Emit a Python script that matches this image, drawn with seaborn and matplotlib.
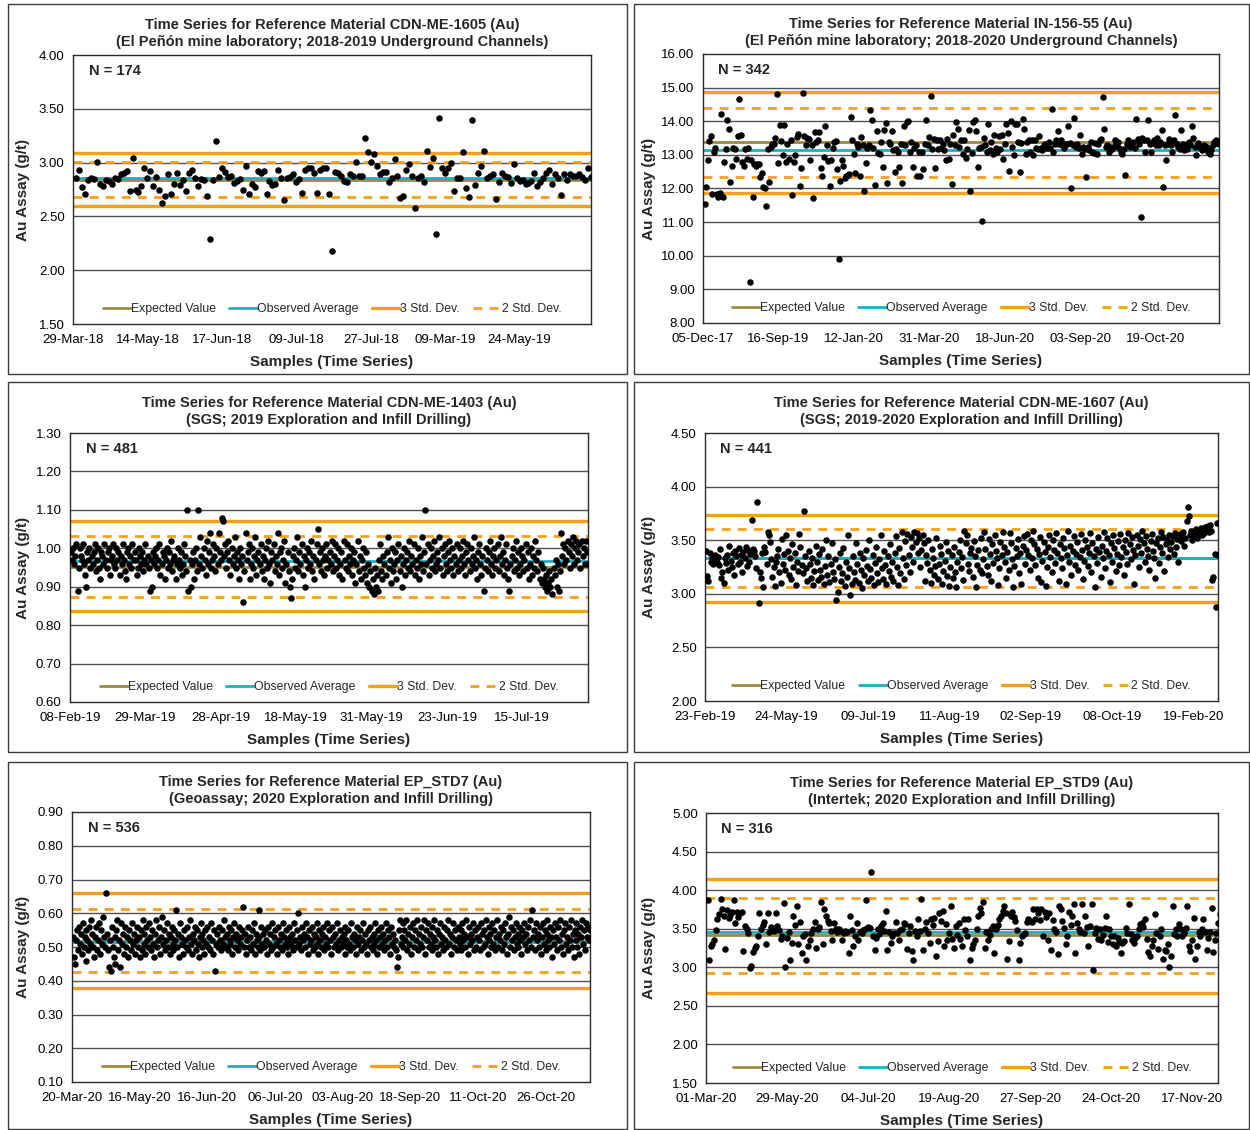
import numpy as np
import pandas as pd
import matplotlib
matplotlib.use("Agg")
import matplotlib.pyplot as plt
import seaborn as sns
from matplotlib.lines import Line2D
from matplotlib.patches import Rectangle

# ---------------- DATA ----------------
p1_titles = ["Time Series for Reference Material CDN-ME-1605 (Au)",
             "(El Peñón mine laboratory; 2018-2019 Underground Channels)"]
p1_ticks = ['29-Mar-18', '14-May-18', '17-Jun-18', '09-Jul-18', '27-Jul-18', '09-Mar-19', '24-May-19']
p1_n = 174
p1_lines = {"exp": 2.84, "obs": 2.86, "sd2": (2.68, 3.01), "sd3": (2.60, 3.09)}
p1_values = [2.86, 2.93, 2.77, 2.71, 2.84, 2.86, 2.85, 3.01, 2.80, 2.78, 2.84, 2.83, 2.80, 2.86, 2.85, 2.89, 2.90,
             2.92, 2.74, 3.04, 2.75, 2.73, 2.78, 2.95, 2.86, 2.92, 2.78, 2.87, 2.75, 2.62, 2.69, 2.89, 2.71, 2.80,
             2.90, 2.79, 2.84, 2.74, 2.90, 2.93, 2.86, 2.78, 2.85, 2.84, 2.69, 2.29, 2.84, 3.20, 2.87, 2.95, 2.91,
             2.87, 2.88, 2.81, 2.83, 2.85, 2.75, 2.97, 2.71, 2.80, 2.77, 2.92, 2.90, 2.92, 2.71, 2.83, 2.79, 2.80,
             2.93, 2.86, 2.65, 2.86, 2.87, 2.89, 2.82, 2.85, 2.72, 2.93, 2.95, 2.95, 2.90, 2.72, 2.93, 2.95, 2.95,
             2.71, 2.18, 2.91, 2.90, 2.88, 2.83, 2.82, 2.89, 2.88, 3.01, 2.88, 2.88, 3.23, 3.10, 3.01, 3.08, 2.97,
             2.89, 2.91, 2.91, 2.82, 2.86, 3.03, 2.88, 2.67, 2.69, 2.93, 2.99, 2.88, 2.58, 2.86, 2.88, 2.82, 3.11,
             2.96, 3.04, 2.34, 3.41, 2.95, 2.90, 2.95, 3.00, 2.74, 2.86, 2.86, 3.10, 2.76, 2.68, 3.40, 2.79, 2.90,
             2.97, 3.11, 2.86, 2.88, 2.89, 2.66, 2.82, 2.90, 2.88, 2.87, 2.81, 2.99, 2.86, 2.83, 2.84, 2.80, 2.81,
             2.83, 2.90, 2.78, 2.82, 2.86, 2.90, 2.93, 2.80, 2.89, 2.86, 2.70, 2.89, 2.84, 2.89, 2.88, 2.88, 2.89,
             2.87, 2.84, 2.95, 2.87]

p2_titles = ["Time Series for Reference Material IN-156-55 (Au)",
             "(El Peñón mine laboratory; 2018-2020 Underground Channels)"]
p2_ticks = ['05-Dec-17', '16-Sep-19', '12-Jan-20', '31-Mar-20', '18-Jun-20', '03-Sep-20', '19-Oct-20']
p2_n = 342
p2_lines = {"exp": 13.37, "obs": 13.15, "sd2": (12.35, 14.38), "sd3": (11.86, 14.88)}
p2_values = [11.53, 12.03, 12.84, 13.41, 13.55, 11.84, 13.08, 13.21, 11.84, 11.75, 11.88, 14.21, 11.76, 12.80, 13.16,
             14.05, 13.77, 12.18, 12.66, 13.19, 13.16, 12.89, 13.55, 14.67, 13.58, 12.79, 12.67, 13.16, 12.89, 13.19,
             9.21, 12.84, 11.76, 12.72, 12.67, 12.72, 12.74, 12.35, 12.45, 12.05, 12.02, 11.49, 13.17, 12.20, 13.24,
             13.33, 13.31, 13.51, 14.81, 12.76,
             13.88, 13.40, 13.01, 13.88, 12.79, 13.32, 12.87, 13.43, 11.81, 12.79, 12.99, 13.53, 13.63, 12.08, 12.62,
             14.85, 13.55, 13.29, 13.51, 13.48, 12.84, 13.28, 11.71, 13.68, 13.38, 13.43, 13.68, 12.60, 12.37, 12.94,
             13.87, 13.29, 12.82, 12.07, 12.86, 13.19, 13.39, 13.41, 12.57, 9.90, 12.23, 12.86, 12.68, 12.30, 12.37,
             12.40, 12.43, 14.12, 13.43, 13.02,
             12.47, 13.32, 13.24, 12.37, 13.53, 13.29, 11.93, 12.76, 13.19, 13.29, 14.34, 14.05, 13.19, 12.10, 13.70,
             13.06, 13.04, 13.38, 12.65, 13.73, 13.95, 12.15, 13.38, 13.33, 13.70, 13.14, 12.50, 13.16, 13.09, 12.65,
             13.33, 12.15, 13.85, 13.29, 13.98, 14.02, 13.09, 13.38, 12.65, 13.19, 13.29, 12.37, 13.09, 12.37, 13.09,
             12.57, 13.32, 14.05, 13.29, 13.53,
             14.74, 13.17, 13.48, 12.60, 13.43, 13.17, 13.45, 13.19, 13.33, 13.14, 12.84, 13.48, 12.89, 13.33, 12.12,
             13.58, 13.29, 13.98, 13.78, 13.24, 13.43, 13.04, 13.45, 12.92, 13.16, 13.73, 11.93, 13.06, 13.98, 14.05,
             13.70, 12.65, 13.19, 13.24, 11.02, 13.51, 13.29, 13.09, 13.91, 13.14, 13.38, 13.04, 13.58, 13.19, 13.09,
             13.55, 13.16, 13.58, 12.89, 13.32,
             13.91, 13.65, 12.53, 14.02, 13.24, 12.99, 13.93, 13.93, 13.38, 12.50, 13.35, 14.07, 13.78, 13.04, 13.38,
             13.43, 13.09, 13.43, 12.99, 13.45, 13.19, 13.16, 13.55, 13.19, 13.14, 13.29, 13.33, 13.19, 13.38, 13.19,
             14.37, 13.09, 13.33, 13.43, 13.70, 13.32, 13.43, 13.29, 13.19, 13.33, 13.32, 13.85, 13.35, 12.00, 13.29,
             14.10, 13.24, 13.33, 13.19, 13.60,
             13.04, 13.24, 13.16, 12.35, 13.22, 13.14, 13.38, 13.09, 13.06, 13.35, 13.04, 13.32, 13.45, 13.48, 14.71,
             13.78, 13.24, 13.29, 13.09, 13.22, 13.16, 13.24, 13.43, 13.33, 13.38, 13.19, 13.09, 13.02, 13.16, 12.40,
             13.32, 13.43, 13.24, 13.29, 13.38, 13.19, 14.07, 13.48, 13.32, 11.14, 13.51, 13.43, 13.09, 13.43, 14.04,
             13.33, 13.09, 13.38, 13.43, 13.29,
             13.51, 13.29, 13.38, 13.73, 12.05, 13.29, 12.86, 13.33, 13.48, 13.29, 13.09, 13.43, 14.20, 13.33, 13.24,
             13.16, 13.73, 13.32, 13.14, 13.29, 13.16, 13.38, 13.29, 13.85, 13.51, 13.24, 12.99, 13.35, 13.22, 13.24,
             13.14, 13.29, 13.19, 13.24, 13.09, 13.02, 13.14, 13.29, 13.38, 13.43, 13.35, 13.33]

p3_titles = ["Time Series for Reference Material CDN-ME-1403 (Au)",
             "(SGS; 2019 Exploration and Infill Drilling)"]
p3_ticks = ['08-Feb-19', '29-Mar-19', '28-Apr-19', '18-May-19', '31-May-19', '23-Jun-19', '15-Jul-19']
p3_n = 481
p3_lines = {"exp": 0.952, "obs": 0.966, "sd2": (0.874, 1.032), "sd3": (0.837, 1.070)}
p3_values = [0.99, 0.97, 1.00, 0.96, 0.98, 1.01, 0.89, 0.95, 1.00, 0.98, 0.97, 1.01, 0.96, 0.93, 0.90, 0.99, 0.97, 1.00, 0.95, 0.98,
             0.96, 0.99, 1.01, 0.94, 0.97, 1.00, 0.95, 0.92, 0.99, 0.98, 0.96, 1.01, 0.97, 0.95, 0.99, 1.00, 0.93, 0.97, 0.98, 1.01,
             0.96, 0.95, 1.00, 0.97, 0.99, 0.93, 0.98, 0.96, 1.01, 0.97, 0.94, 0.92, 0.99, 1.00, 0.96, 0.98, 0.95, 1.01, 0.97, 0.99,
             0.97, 0.93, 0.95, 1.00, 0.98, 0.96, 0.99, 0.94, 0.97, 1.01, 0.96, 0.98, 0.95, 0.89, 0.97, 0.90, 0.99, 0.96, 0.98, 1.00,
             0.95, 0.97, 1.01, 0.93, 0.96, 0.99, 0.98, 0.92, 0.97, 1.00, 0.95, 0.99, 0.96, 1.02, 0.94, 0.97, 0.98, 0.92, 0.96, 1.00,
             0.97, 0.95, 0.99, 0.93, 0.96, 1.01, 0.98, 0.94, 1.10, 0.89, 0.97, 0.90, 0.96, 0.99, 0.92, 0.97, 1.00, 0.94, 1.10, 0.96,
             1.03, 0.98, 0.95, 1.00, 0.97, 0.93, 1.02, 0.96, 0.99, 1.04, 0.95, 0.97, 1.01, 0.98, 0.94, 1.00, 0.96, 1.04, 0.99, 0.97,
             1.08, 1.07, 0.98, 1.01, 0.95, 0.99, 1.02, 0.97, 0.93, 1.00, 0.96, 0.98, 1.03, 0.95, 0.99, 0.97, 0.92, 1.00, 0.96, 0.98,
             0.86, 0.94, 1.04, 0.97, 0.99, 1.01, 0.92, 0.96, 1.00, 0.95, 0.98, 1.03, 0.93, 0.97, 0.99, 0.96, 1.01, 0.94, 0.98, 0.92,
             0.97, 1.00, 0.95, 1.02, 0.96, 0.91, 0.99, 0.97, 1.01, 0.94, 0.98, 0.96, 1.04, 0.93, 0.99, 1.00, 0.95, 0.97, 1.02, 0.91,
             0.96, 0.99, 0.94, 0.90, 0.87, 0.92, 0.98, 1.00, 0.95, 0.97, 1.03, 0.94, 0.99, 0.96, 1.01, 0.93, 0.98, 0.90, 0.97, 1.00,
             0.95, 0.99, 0.96, 1.02, 0.94, 0.98, 0.92, 0.97, 1.01, 1.05, 0.96, 0.99, 0.94, 1.00, 0.97, 0.93, 0.98, 1.01, 0.95, 0.97,
             0.99, 0.96, 1.02, 0.94, 0.98, 1.01, 0.95, 0.97, 1.00, 0.93, 0.96, 0.99, 0.92, 1.02, 0.97, 0.95, 1.01, 0.94, 0.98, 0.96,
             1.00, 0.93, 0.97, 0.99, 0.91, 0.96, 1.02, 0.94, 0.98, 0.92, 0.97, 1.00, 0.95, 0.93, 0.99, 0.91, 0.96, 0.90, 0.94, 0.89,
             0.92, 0.88, 0.95, 0.90, 0.93, 0.89, 0.97, 1.01, 0.94, 0.92, 0.98, 0.96, 0.93, 0.99, 1.03, 0.95, 0.97, 0.91, 1.00, 0.94,
             0.96, 0.99, 0.92, 0.97, 1.01, 0.94, 0.98, 0.90, 0.96, 1.00, 0.93, 0.97, 0.99, 0.95, 1.02, 0.94, 0.98, 0.96, 1.01, 0.93,
             0.97, 0.95, 1.00, 0.92, 0.98, 0.96, 1.03, 0.94, 0.99, 1.10, 0.96, 1.01, 0.93, 0.97, 1.00, 0.95, 0.98, 1.02, 0.94, 0.96,
             0.99, 0.97, 1.03, 0.95, 1.00, 0.93, 0.98, 1.01, 0.96, 0.94, 0.99, 1.02, 0.97, 0.95, 1.00, 0.93, 0.98, 0.96, 1.01, 0.94,
             0.97, 1.00, 0.95, 0.98, 1.02, 0.96, 0.93, 0.99, 1.01, 0.97, 0.94, 1.00, 0.96, 0.98, 1.03, 0.95, 0.97, 0.92, 0.99, 1.01,
             0.96, 0.93, 0.98, 0.89, 0.95, 1.00, 0.97, 0.94, 0.99, 1.02, 0.96, 0.93, 0.98, 1.00, 0.95, 0.97, 1.01, 0.94, 0.98, 1.03,
             0.96, 0.99, 0.93, 0.97, 1.01, 0.95, 0.92, 0.89, 0.96, 0.98, 1.00, 0.94, 0.97, 1.02, 0.95, 0.99, 0.93, 0.96, 1.00, 0.98,
             0.94, 0.97, 1.01, 0.95, 0.99, 0.92, 0.96, 1.00, 0.93, 0.98, 0.95, 1.02, 0.97, 0.94, 0.99, 0.92, 0.96, 0.91, 0.95, 0.92,
             0.90, 0.93, 0.89, 0.91, 0.94, 0.90, 0.92, 0.88, 0.95, 0.93, 0.97, 0.90, 0.96, 0.89, 0.94, 1.04, 0.98, 1.01, 0.96, 1.00,
             0.97, 1.02, 0.99, 0.95, 1.01, 0.98, 1.03, 0.96, 1.00, 1.02, 0.97, 0.99, 1.01, 0.95, 1.02, 0.98, 1.00, 0.96, 1.02, 0.99,
             0.96]

p4_titles = ["Time Series for Reference Material CDN-ME-1607 (Au)",
             "(SGS; 2019-2020 Exploration and Infill Drilling)"]
p4_ticks = ['23-Feb-19', '24-May-19', '09-Jul-19', '11-Aug-19', '02-Sep-19', '08-Oct-19', '19-Feb-20']
p4_n = 441
p4_lines = {"exp": 3.33, "obs": 3.33, "sd2": (3.06, 3.60), "sd3": (2.925, 3.735)}
p4_values = [3.40, 3.17, 3.12, 3.38, 3.30, 3.33, 3.28, 3.31, 3.36, 3.30, 3.34, 3.27, 3.42, 3.15, 3.20, 3.10, 3.33, 3.29, 3.36, 3.22,
             3.45, 3.31, 3.25, 3.38, 3.18, 3.40, 3.35, 3.28, 3.43, 3.30, 3.36, 3.20, 3.39, 3.33, 3.44, 3.26, 3.41, 3.30, 3.37, 3.69,
             3.42, 3.40, 3.35, 3.24, 3.86, 2.91, 3.20, 3.15, 3.38, 3.06, 3.44, 3.39, 3.28, 3.58, 3.55, 3.48, 3.32, 3.16, 3.25, 3.07,
             3.30, 3.35, 3.42, 3.20, 3.10, 3.51, 3.28, 3.37, 3.22, 3.55, 3.40, 3.18, 3.33, 3.14, 3.46, 3.25, 3.38, 3.08, 3.30, 3.21,
             3.56, 3.44, 3.27, 3.19, 3.77, 3.35, 3.24, 3.12, 3.40, 3.28, 3.15, 3.33, 3.08, 3.21, 3.45, 3.30, 3.13, 3.37, 3.22, 3.16,
             3.42, 3.09, 3.26, 3.50, 3.18, 3.35, 3.11, 3.28, 3.47, 3.20, 3.14, 3.32, 2.94, 3.02, 3.25, 3.38, 3.12, 3.19, 3.43, 3.07,
             3.30, 3.16, 3.55, 3.24, 2.99, 3.09, 3.35, 3.20, 3.13, 3.47, 3.28, 3.10, 3.38, 3.22, 3.05, 3.33, 3.18, 3.41, 3.26, 3.12,
             3.50, 3.23, 3.15, 3.36, 3.08, 3.29, 3.44, 3.19, 3.11, 3.32, 3.55, 3.24, 3.14, 3.40, 3.27, 3.09, 3.35, 3.21, 3.46, 3.16,
             3.30, 3.12, 3.38, 3.54, 3.25, 3.08, 3.43, 3.19, 3.58, 3.33, 3.14, 3.49, 3.27, 3.56, 3.36, 3.20, 3.53, 3.44, 3.30, 3.58,
             3.48, 3.57, 3.38, 3.52, 3.25, 3.41, 3.55, 3.47, 3.12, 3.36, 3.29, 3.50, 3.22, 3.10, 3.42, 3.33, 3.18, 3.26, 3.52, 3.14,
             3.28, 3.45, 3.37, 3.09, 3.21, 3.31, 3.48, 3.17, 3.40, 3.07, 3.25, 3.36, 3.15, 3.44, 3.20, 3.06, 3.30, 3.39, 3.50, 3.24,
             3.34, 3.13, 3.59, 3.47, 3.55, 3.28, 3.21, 3.38, 3.43, 3.16, 3.49, 3.35, 3.06, 3.27, 3.41, 3.22, 3.52, 3.19, 3.32, 3.58,
             3.42, 3.26, 3.18, 3.51, 3.37, 3.12, 3.46, 3.29, 3.55, 3.40, 3.33, 3.08, 3.24, 3.48, 3.36, 3.58, 3.44, 3.30, 3.15, 3.39,
             3.22, 3.57, 3.47, 3.32, 3.06, 3.26, 3.43, 3.35, 3.51, 3.19, 3.38, 3.09, 3.45, 3.54, 3.28, 3.41, 3.56, 3.36, 3.22, 3.50,
             3.33, 3.59, 3.46, 3.27, 3.42, 3.15, 3.37, 3.53, 3.11, 3.31, 3.48, 3.39, 3.07, 3.25, 3.44, 3.55, 3.34, 3.20, 3.50, 3.41,
             3.29, 3.57, 3.38, 3.12, 3.46, 3.33, 3.24, 3.52, 3.43, 3.09, 3.36, 3.59, 3.30, 3.45, 3.18, 3.40, 3.54, 3.27, 3.37, 3.48,
             3.22, 3.34, 3.56, 3.41, 3.14, 3.31, 3.50, 3.44, 3.26, 3.38, 3.57, 3.20, 3.47, 3.35, 3.06, 3.42, 3.29, 3.53, 3.39, 3.16,
             3.45, 3.33, 3.58, 3.24, 3.40, 3.52, 3.36, 3.11, 3.47, 3.30, 3.55, 3.43, 3.21, 3.37, 3.49, 3.27, 3.56, 3.34, 3.44, 3.18,
             3.50, 3.39, 3.28, 3.57, 3.46, 3.32, 3.53, 3.41, 3.09, 3.36, 3.55, 3.45, 3.25, 3.51, 3.38, 3.59, 3.47, 3.30, 3.54, 3.42,
             3.35, 3.22, 3.49, 3.56, 3.40, 3.33, 3.15, 3.47, 3.52, 3.29, 3.44, 3.58, 3.38, 3.53, 3.21, 3.46, 3.50, 3.34, 3.55, 3.42,
             3.48, 3.54, 3.37, 3.57, 3.44, 3.51, 3.30, 3.56, 3.49, 3.53, 3.58, 3.45, 3.52, 3.68, 3.81, 3.73, 3.55, 3.59, 3.50, 3.57,
             3.54, 3.60, 3.52, 3.58, 3.56, 3.61, 3.55, 3.59, 3.57, 3.62, 3.60, 3.63, 3.58, 3.64, 3.59, 3.13, 3.16, 3.37, 2.88, 3.66,
             3.36]

p5_titles = ["Time Series for Reference Material EP_STD7 (Au)",
             "(Geoassay; 2020 Exploration and Infill Drilling)"]
p5_ticks = ['20-Mar-20', '16-May-20', '16-Jun-20', '06-Jul-20', '03-Aug-20', '18-Sep-20', '11-Oct-20', '26-Oct-20']
p5_n = 536
p5_lines = {"exp": 0.518, "obs": 0.516, "sd2": (0.425, 0.614), "sd3": (0.378, 0.659)}
p5_values = [0.53, 0.47, 0.45, 0.52, 0.55, 0.49, 0.56, 0.51, 0.54, 0.48, 0.57, 0.50, 0.53, 0.46, 0.55, 0.52, 0.49, 0.56, 0.51, 0.58,
             0.54, 0.50, 0.47, 0.53, 0.56, 0.49, 0.52, 0.57, 0.48, 0.55, 0.51, 0.59, 0.53, 0.50, 0.66, 0.54, 0.49, 0.44, 0.52, 0.43,
             0.56, 0.50, 0.47, 0.53, 0.45, 0.55, 0.58, 0.49, 0.52, 0.44, 0.57, 0.51, 0.54, 0.48, 0.56, 0.50, 0.53, 0.47, 0.55, 0.52,
             0.49, 0.57, 0.51, 0.54, 0.48, 0.52, 0.56, 0.50, 0.53, 0.47, 0.55, 0.49, 0.58, 0.51, 0.54, 0.48, 0.56, 0.52, 0.50, 0.57,
             0.53, 0.49, 0.55, 0.51, 0.47, 0.54, 0.58, 0.50, 0.52, 0.56, 0.48, 0.53, 0.59, 0.51, 0.55, 0.49, 0.52, 0.57, 0.50, 0.54,
             0.48, 0.53, 0.56, 0.51, 0.49, 0.55, 0.52, 0.61, 0.50, 0.54, 0.47, 0.57, 0.53, 0.51, 0.48, 0.55, 0.52, 0.50, 0.56, 0.49,
             0.53, 0.58, 0.51, 0.48, 0.54, 0.52, 0.56, 0.49, 0.55, 0.51, 0.47, 0.53, 0.57, 0.50, 0.54, 0.52, 0.48, 0.55, 0.51, 0.56,
             0.50, 0.53, 0.49, 0.57, 0.52, 0.48, 0.55, 0.43, 0.51, 0.54, 0.50, 0.56, 0.52, 0.49, 0.55, 0.51, 0.58, 0.53, 0.50, 0.54,
             0.49, 0.56, 0.52, 0.51, 0.55, 0.48, 0.53, 0.57, 0.50, 0.54, 0.52, 0.49, 0.56, 0.51, 0.53, 0.55, 0.62, 0.50, 0.54, 0.48,
             0.52, 0.56, 0.50, 0.53, 0.49, 0.55, 0.51, 0.57, 0.48, 0.54, 0.52, 0.50, 0.61, 0.53, 0.49, 0.56, 0.51, 0.54, 0.50, 0.55,
             0.52, 0.48, 0.56, 0.51, 0.54, 0.49, 0.57, 0.50, 0.53, 0.55, 0.51, 0.48, 0.56, 0.52, 0.50, 0.54, 0.49, 0.57, 0.53, 0.51,
             0.55, 0.50, 0.52, 0.48, 0.56, 0.53, 0.51, 0.54, 0.49, 0.57, 0.52, 0.50, 0.55, 0.60, 0.51, 0.53, 0.49, 0.56, 0.52, 0.54,
             0.50, 0.57, 0.53, 0.48, 0.55, 0.51, 0.52, 0.56, 0.49, 0.54, 0.50, 0.53, 0.57, 0.51, 0.48, 0.55, 0.52, 0.50, 0.54, 0.56,
             0.49, 0.53, 0.51, 0.57, 0.50, 0.55, 0.52, 0.48, 0.56, 0.53, 0.50, 0.54, 0.51, 0.57, 0.49, 0.52, 0.55, 0.50, 0.53, 0.51,
             0.54, 0.48, 0.56, 0.52, 0.50, 0.55, 0.51, 0.49, 0.57, 0.53, 0.50, 0.54, 0.52, 0.48, 0.56, 0.51, 0.53, 0.55, 0.49, 0.52,
             0.57, 0.50, 0.54, 0.51, 0.48, 0.55, 0.52, 0.56, 0.50, 0.53, 0.49, 0.54, 0.51, 0.57, 0.52, 0.48, 0.55, 0.50, 0.53, 0.56,
             0.51, 0.54, 0.49, 0.52, 0.57, 0.50, 0.55, 0.53, 0.48, 0.56, 0.51, 0.54, 0.50, 0.52, 0.49, 0.44, 0.47, 0.55, 0.58, 0.51,
             0.53, 0.57, 0.50, 0.55, 0.52, 0.58, 0.49, 0.54, 0.51, 0.56, 0.48, 0.53, 0.57, 0.50, 0.55, 0.52, 0.58, 0.49, 0.54, 0.51,
             0.56, 0.50, 0.53, 0.58, 0.48, 0.55, 0.52, 0.57, 0.50, 0.54, 0.51, 0.56, 0.49, 0.53, 0.58, 0.52, 0.50, 0.55, 0.48, 0.54,
             0.57, 0.51, 0.53, 0.49, 0.56, 0.52, 0.50, 0.55, 0.58, 0.51, 0.54, 0.48, 0.53, 0.57, 0.50, 0.55, 0.52, 0.49, 0.56, 0.53,
             0.51, 0.55, 0.49, 0.57, 0.52, 0.54, 0.50, 0.58, 0.53, 0.48, 0.56, 0.51, 0.54, 0.52, 0.57, 0.49, 0.55, 0.50, 0.53, 0.56,
             0.52, 0.49, 0.57, 0.54, 0.50, 0.55, 0.51, 0.58, 0.53, 0.48, 0.56, 0.52, 0.54, 0.50, 0.57, 0.51, 0.55, 0.49, 0.53, 0.58,
             0.50, 0.54, 0.52, 0.56, 0.49, 0.55, 0.51, 0.57, 0.53, 0.48, 0.54, 0.59, 0.50, 0.56, 0.52, 0.55, 0.49, 0.53, 0.57, 0.51,
             0.54, 0.50, 0.56, 0.52, 0.48, 0.55, 0.53, 0.57, 0.51, 0.54, 0.49, 0.56, 0.52, 0.58, 0.50, 0.61, 0.53, 0.55, 0.49, 0.57,
             0.52, 0.54, 0.50, 0.56, 0.48, 0.53, 0.57, 0.51, 0.55, 0.49, 0.54, 0.58, 0.52, 0.50, 0.56, 0.53, 0.47, 0.55, 0.51, 0.57,
             0.53, 0.49, 0.56, 0.52, 0.58, 0.50, 0.54, 0.48, 0.55, 0.57, 0.51, 0.53, 0.49, 0.56, 0.52, 0.58, 0.50, 0.54, 0.47, 0.55,
             0.52, 0.57, 0.50, 0.54, 0.48, 0.56, 0.53, 0.58, 0.51, 0.55, 0.49, 0.57, 0.53, 0.56, 0.52, 0.55]

p6_titles = ["Time Series for Reference Material EP_STD9 (Au)",
             "(Intertek; 2020 Exploration and Infill Drilling)"]
p6_ticks = ['01-Mar-20', '29-May-20', '04-Jul-20', '19-Aug-20', '27-Sep-20', '24-Oct-20', '17-Nov-20']
p6_n = 316
p6_lines = {"exp": 3.42, "obs": 3.46, "sd2": (2.93, 3.90), "sd3": (2.67, 4.15)}
p6_values = [3.87, 3.10, 3.27, 3.30, 3.35, 3.48, 3.62, 3.69, 3.89, 3.75, 3.66, 3.24, 3.74, 3.64, 3.68,
             3.72, 3.87, 3.58, 3.72, 3.65, 3.70, 3.72, 3.21, 3.54, 3.50, 3.45, 2.99, 3.02, 3.20, 3.25,
             3.28, 3.40, 3.70, 3.49, 3.55, 3.59, 3.30, 3.70, 3.46, 3.52, 3.50, 3.47, 3.70, 3.53, 3.48,
             3.37, 3.40, 3.83, 3.00, 3.38, 3.46, 3.09, 3.32, 3.67, 3.55, 3.80, 3.30, 3.59, 3.19, 3.40,
             3.43, 3.09, 3.27, 3.36, 3.45, 3.49, 3.59, 3.25, 3.49, 3.52, 3.85, 3.30, 3.76, 3.67, 3.60,
             3.57, 3.47, 3.35, 3.58, 3.50, 3.46, 3.49, 3.47, 3.36, 3.44, 3.47, 3.46, 3.19, 3.66, 3.48,
             3.27, 3.40, 3.57, 3.36, 3.46, 3.45, 3.48, 3.50, 3.87, 3.52, 3.51, 4.24, 3.41, 3.23, 3.38,
             3.50, 3.43, 3.53, 3.57, 3.47, 3.73, 3.23, 3.46, 3.32, 3.40, 3.44, 3.59, 3.44, 3.36, 3.48,
             3.50, 3.58, 3.56, 3.24, 3.45, 3.54, 3.21, 3.10, 3.47, 3.40, 3.62, 3.47, 3.89, 3.23, 3.50,
             3.59, 3.44, 3.32, 3.62, 3.55, 3.64, 3.14, 3.34, 3.70, 3.60, 3.73, 3.27, 3.56, 3.36, 3.45,
             3.80, 3.37, 3.25, 3.54, 3.42, 3.57, 3.37, 3.27, 3.62, 3.48, 3.41, 3.63, 3.09, 3.25, 3.30,
             3.36, 3.50, 3.67, 3.77, 3.70, 3.85, 3.25, 3.46, 3.36, 3.42, 3.50, 3.54, 3.18, 3.50, 3.55,
             3.62, 3.66, 3.73, 3.79, 3.70, 3.11, 3.34, 3.66, 3.72, 3.65, 3.60, 3.48, 3.09, 3.32, 3.40,
             3.43, 3.44, 3.59, 3.62, 3.60, 3.59, 3.75, 3.63, 3.76, 3.70, 3.61, 3.75, 3.41, 3.72, 3.65,
             3.36, 3.71, 3.22, 3.61, 3.50, 3.46, 3.17, 3.79, 3.75, 3.60, 3.51, 3.30, 3.40, 3.72, 3.55,
             3.66, 3.82, 3.18, 3.58, 3.50, 3.46, 3.82, 3.44, 3.66, 3.52, 3.28, 3.53, 3.82, 2.96, 3.45,
             3.51, 3.37, 3.49, 3.36, 3.42, 3.51, 3.67, 3.33, 3.49, 3.40, 3.30, 3.40, 3.27, 3.38, 3.33,
             3.19, 3.32, 3.34, 3.51, 3.45, 3.82, 3.43, 3.35, 3.32, 3.38, 3.41, 3.49, 3.56, 3.58, 3.52,
             3.63, 3.37, 3.20, 3.15, 3.28, 3.36, 3.69, 3.44, 3.24, 3.40, 3.49, 3.11, 3.23, 3.21, 3.30,
             3.01, 3.14, 3.79, 3.43, 3.50, 3.40, 3.56, 3.49, 3.40, 3.45, 3.51, 3.79, 3.27, 3.21, 3.35,
             3.64, 3.11, 3.28, 3.46, 3.40, 3.49, 3.63, 3.46, 3.22, 3.38, 3.46, 3.77, 3.20, 3.35, 3.45,
             3.58, 3.69, 3.46, 3.61, 3.70, 3.85]

# axis ranges (min, max, step) and date-label spacing in samples
p1_yaxis, p1_xstep = (1.5, 4.0, 0.5), 25
p2_yaxis, p2_xstep = (8.0, 16.0, 1.0), 50
p3_yaxis, p3_xstep = (0.6, 1.3, 0.1), 70
p4_yaxis, p4_xstep = (2.0, 4.5, 0.5), 70
p5_yaxis, p5_xstep = (0.1, 0.9, 0.1), 70
p6_yaxis, p6_xstep = (1.5, 5.0, 0.5), 50

legend_labels = ["Expected Value", "Observed Average", "3 Std. Dev.", "2 Std. Dev."]

# ---------------- STYLE ----------------
sns.set_theme(style="white")
plt.rcParams['font.family'] = ['Liberation Sans Narrow', 'Liberation Sans', 'DejaVu Sans']

C_ORANGE = '#F5A01C'
C_TEAL = '#1BB1C3'
C_OLIVE = '#9E8A3E'
C_GRID = '#505050'
W, H = 1250, 1130

fig = plt.figure(figsize=(W / 100, H / 100), dpi=100)
fig.patch.set_facecolor('white')

# layout in pixels: (frame x0, y0, x1, y1), (plot x0, y0, x1, y1)
layout = [
    ((8, 4, 627, 374), (73, 55, 591, 324)),
    ((634, 4, 1249, 374), (703, 54, 1219, 323)),
    ((8, 382, 627, 752), (70, 433, 588, 702)),
    ((634, 382, 1249, 752), (705, 433, 1218, 701)),
    ((8, 762, 627, 1129), (72, 812, 590, 1082)),
    ((634, 762, 1249, 1129), (706, 813, 1218, 1083)),
]

panels = [
    (p1_titles, p1_ticks, p1_n, p1_lines, p1_values, p1_yaxis, p1_xstep),
    (p2_titles, p2_ticks, p2_n, p2_lines, p2_values, p2_yaxis, p2_xstep),
    (p3_titles, p3_ticks, p3_n, p3_lines, p3_values, p3_yaxis, p3_xstep),
    (p4_titles, p4_ticks, p4_n, p4_lines, p4_values, p4_yaxis, p4_xstep),
    (p5_titles, p5_ticks, p5_n, p5_lines, p5_values, p5_yaxis, p5_xstep),
    (p6_titles, p6_ticks, p6_n, p6_lines, p6_values, p6_yaxis, p6_xstep),
]

for (frame, plot), (titles, ticks, n, lines, values, yaxis, xstep) in zip(layout, panels):
    fx0, fy0, fx1, fy1 = frame
    fig.patches.append(Rectangle((fx0 / W, 1 - fy1 / H), (fx1 - fx0) / W, (fy1 - fy0) / H,
                                 transform=fig.transFigure, fill=False, edgecolor='#3a3a3a',
                                 linewidth=1.0, zorder=0))
    px0, py0, px1, py1 = plot
    ax = fig.add_axes([px0 / W, 1 - py1 / H, (px1 - px0) / W, (py1 - py0) / H])
    ax.set_facecolor('white')

    df = pd.DataFrame({"sample": np.arange(1, len(values) + 1), "assay": values})

    ymin, ymax, ystep = yaxis
    yt = np.arange(ymin, ymax + ystep / 2, ystep)
    for v in yt[1:-1]:
        ax.axhline(v, color=C_GRID, lw=1.0, zorder=1)

    ax.axhline(lines["sd3"][0], color=C_ORANGE, lw=2.4, zorder=2)
    ax.axhline(lines["sd3"][1], color=C_ORANGE, lw=2.4, zorder=2)
    ax.axhline(lines["sd2"][0], color=C_ORANGE, lw=2.0, ls=(0, (3.2, 2.6)), zorder=2)
    ax.axhline(lines["sd2"][1], color=C_ORANGE, lw=2.0, ls=(0, (3.2, 2.6)), zorder=2)
    ax.axhline(lines["exp"], color=C_OLIVE, lw=2.0, zorder=2)
    ax.axhline(lines["obs"], color=C_TEAL, lw=2.0, zorder=2)

    sns.scatterplot(data=df, x="sample", y="assay", ax=ax, color='black', s=22,
                    edgecolor='black', linewidth=0, zorder=3, legend=False)

    ax.set_xlim(0, n)
    ax.set_ylim(ymin, ymax)
    ax.set_yticks(yt)
    ax.set_yticklabels([f"{v:.2f}" for v in yt])
    xt = np.arange(0, n, xstep)[:len(ticks)]
    ax.set_xticks(xt)
    ax.set_xticklabels(ticks)
    ax.tick_params(axis='both', which='major', labelsize=9.5, colors='black', length=4,
                   width=1, direction='out', pad=2)
    ax.tick_params(axis='x', length=5)
    ax.set_xlabel("")
    ax.set_ylabel("")
    for sp in ax.spines.values():
        sp.set_color('#2a2a2a')
        sp.set_linewidth(1.0)

    ax.text(0.03, 0.94, f"N = {n}", transform=ax.transAxes, fontsize=10.5,
            fontweight='bold', ha='left', va='center')

    handles = [Line2D([], [], color=C_OLIVE, lw=2.0),
               Line2D([], [], color=C_TEAL, lw=2.0),
               Line2D([], [], color=C_ORANGE, lw=2.4),
               Line2D([], [], color=C_ORANGE, lw=2.0, ls=(0, (3.2, 2.6)))]
    ax.legend(handles, legend_labels, loc='lower center', bbox_to_anchor=(0.5, 0.0), ncol=4,
              frameon=False, fontsize=8.8, handlelength=2.3, handletextpad=0.0,
              columnspacing=1.1, borderaxespad=0.3)

    cx = (px0 + px1) / 2 / W
    fig.text(cx, 1 - (py0 - 30) / H, titles[0], ha='center', va='center',
             fontsize=10.5, fontweight='bold')
    fig.text(cx, 1 - (py0 - 13) / H, titles[1], ha='center', va='center',
             fontsize=10.5, fontweight='bold')
    fig.text(cx, 1 - (py1 + 38) / H, "Samples (Time Series)", ha='center', va='center',
             fontsize=11, fontweight='bold')
    fig.text((fx0 + 15) / W, 1 - (py0 + py1) / 2 / H, "Au Assay (g/t)", ha='center',
             va='center', rotation=90, fontsize=11, fontweight='bold')

fig.savefig("out.png", dpi=100, facecolor='white')
